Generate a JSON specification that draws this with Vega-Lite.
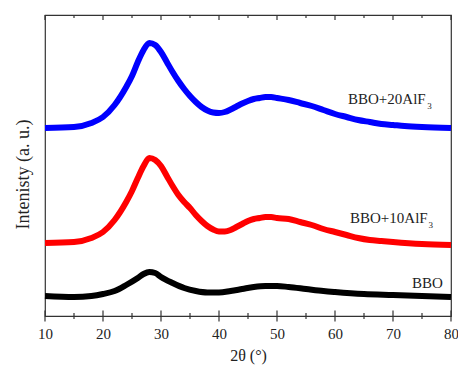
{
  "$schema": "https://vega.github.io/schema/vega-lite/v6.json",
  "width": 406,
  "height": 301,
  "autosize": "none",
  "padding": {"left": 45, "top": 15, "right": 7, "bottom": 49},
  "background": "white",
  "config": {
    "view": {"stroke": "#333333", "strokeWidth": 1.2},
    "font": "Liberation Serif, Times New Roman, serif",
    "axis": {"labelFont": "Liberation Serif, Times New Roman, serif", "titleFont": "Liberation Serif, Times New Roman, serif", "titleFontWeight": "normal", "labelColor": "#222222", "titleColor": "#222222", "grid": false}
  },
  "datasets": {
    "curves": [
      {"s": "BBO+20AlF3", "x": 10, "y": 188}, {"s": "BBO+20AlF3", "x": 15, "y": 189}, {"s": "BBO+20AlF3", "x": 18, "y": 193}, {"s": "BBO+20AlF3", "x": 20, "y": 199},
      {"s": "BBO+20AlF3", "x": 22, "y": 211}, {"s": "BBO+20AlF3", "x": 24, "y": 229}, {"s": "BBO+20AlF3", "x": 25, "y": 240}, {"s": "BBO+20AlF3", "x": 26, "y": 254},
      {"s": "BBO+20AlF3", "x": 27, "y": 266}, {"s": "BBO+20AlF3", "x": 28, "y": 273}, {"s": "BBO+20AlF3", "x": 29, "y": 271}, {"s": "BBO+20AlF3", "x": 30, "y": 264},
      {"s": "BBO+20AlF3", "x": 31, "y": 254}, {"s": "BBO+20AlF3", "x": 32, "y": 244}, {"s": "BBO+20AlF3", "x": 33, "y": 235}, {"s": "BBO+20AlF3", "x": 34, "y": 227},
      {"s": "BBO+20AlF3", "x": 35, "y": 220}, {"s": "BBO+20AlF3", "x": 36, "y": 214}, {"s": "BBO+20AlF3", "x": 37, "y": 209}, {"s": "BBO+20AlF3", "x": 38, "y": 205.5},
      {"s": "BBO+20AlF3", "x": 39, "y": 203.5}, {"s": "BBO+20AlF3", "x": 40, "y": 203}, {"s": "BBO+20AlF3", "x": 41, "y": 204}, {"s": "BBO+20AlF3", "x": 42, "y": 206.5},
      {"s": "BBO+20AlF3", "x": 43, "y": 209.5}, {"s": "BBO+20AlF3", "x": 44, "y": 212.5}, {"s": "BBO+20AlF3", "x": 45, "y": 215}, {"s": "BBO+20AlF3", "x": 46, "y": 217},
      {"s": "BBO+20AlF3", "x": 47, "y": 218}, {"s": "BBO+20AlF3", "x": 48, "y": 219}, {"s": "BBO+20AlF3", "x": 49, "y": 219}, {"s": "BBO+20AlF3", "x": 50, "y": 218},
      {"s": "BBO+20AlF3", "x": 52, "y": 216}, {"s": "BBO+20AlF3", "x": 54, "y": 213}, {"s": "BBO+20AlF3", "x": 56, "y": 210}, {"s": "BBO+20AlF3", "x": 58, "y": 206},
      {"s": "BBO+20AlF3", "x": 60, "y": 202}, {"s": "BBO+20AlF3", "x": 62, "y": 199}, {"s": "BBO+20AlF3", "x": 64, "y": 196}, {"s": "BBO+20AlF3", "x": 66, "y": 194},
      {"s": "BBO+20AlF3", "x": 68, "y": 192}, {"s": "BBO+20AlF3", "x": 70, "y": 191}, {"s": "BBO+20AlF3", "x": 72, "y": 190}, {"s": "BBO+20AlF3", "x": 75, "y": 189},
      {"s": "BBO+20AlF3", "x": 80, "y": 188},
      {"s": "BBO+10AlF3", "x": 10, "y": 73}, {"s": "BBO+10AlF3", "x": 15, "y": 74}, {"s": "BBO+10AlF3", "x": 18, "y": 78}, {"s": "BBO+10AlF3", "x": 20, "y": 84},
      {"s": "BBO+10AlF3", "x": 22, "y": 96}, {"s": "BBO+10AlF3", "x": 24, "y": 114}, {"s": "BBO+10AlF3", "x": 25, "y": 125}, {"s": "BBO+10AlF3", "x": 26, "y": 138},
      {"s": "BBO+10AlF3", "x": 27, "y": 150}, {"s": "BBO+10AlF3", "x": 28, "y": 158}, {"s": "BBO+10AlF3", "x": 29, "y": 156}, {"s": "BBO+10AlF3", "x": 30, "y": 150},
      {"s": "BBO+10AlF3", "x": 31, "y": 140}, {"s": "BBO+10AlF3", "x": 32, "y": 130}, {"s": "BBO+10AlF3", "x": 33, "y": 121}, {"s": "BBO+10AlF3", "x": 34, "y": 114},
      {"s": "BBO+10AlF3", "x": 35, "y": 108}, {"s": "BBO+10AlF3", "x": 36, "y": 101}, {"s": "BBO+10AlF3", "x": 37, "y": 95}, {"s": "BBO+10AlF3", "x": 38, "y": 90},
      {"s": "BBO+10AlF3", "x": 39, "y": 86.5}, {"s": "BBO+10AlF3", "x": 40, "y": 84.5}, {"s": "BBO+10AlF3", "x": 41, "y": 84.5}, {"s": "BBO+10AlF3", "x": 42, "y": 86},
      {"s": "BBO+10AlF3", "x": 43, "y": 89}, {"s": "BBO+10AlF3", "x": 44, "y": 92}, {"s": "BBO+10AlF3", "x": 45, "y": 95}, {"s": "BBO+10AlF3", "x": 46, "y": 97},
      {"s": "BBO+10AlF3", "x": 47, "y": 98}, {"s": "BBO+10AlF3", "x": 48, "y": 99}, {"s": "BBO+10AlF3", "x": 49, "y": 99}, {"s": "BBO+10AlF3", "x": 50, "y": 98},
      {"s": "BBO+10AlF3", "x": 52, "y": 97}, {"s": "BBO+10AlF3", "x": 54, "y": 94}, {"s": "BBO+10AlF3", "x": 56, "y": 91}, {"s": "BBO+10AlF3", "x": 58, "y": 87},
      {"s": "BBO+10AlF3", "x": 60, "y": 84}, {"s": "BBO+10AlF3", "x": 62, "y": 81}, {"s": "BBO+10AlF3", "x": 64, "y": 78}, {"s": "BBO+10AlF3", "x": 66, "y": 76},
      {"s": "BBO+10AlF3", "x": 68, "y": 75}, {"s": "BBO+10AlF3", "x": 70, "y": 74}, {"s": "BBO+10AlF3", "x": 75, "y": 72}, {"s": "BBO+10AlF3", "x": 80, "y": 71},
      {"s": "BBO", "x": 10, "y": 20}, {"s": "BBO", "x": 15, "y": 19}, {"s": "BBO", "x": 18, "y": 20}, {"s": "BBO", "x": 20, "y": 22},
      {"s": "BBO", "x": 22, "y": 25}, {"s": "BBO", "x": 24, "y": 31}, {"s": "BBO", "x": 26, "y": 38}, {"s": "BBO", "x": 27, "y": 42},
      {"s": "BBO", "x": 28, "y": 44}, {"s": "BBO", "x": 29, "y": 43}, {"s": "BBO", "x": 30, "y": 39}, {"s": "BBO", "x": 32, "y": 33},
      {"s": "BBO", "x": 34, "y": 28}, {"s": "BBO", "x": 36, "y": 25}, {"s": "BBO", "x": 38, "y": 23.5}, {"s": "BBO", "x": 40, "y": 23.5},
      {"s": "BBO", "x": 42, "y": 25}, {"s": "BBO", "x": 44, "y": 27}, {"s": "BBO", "x": 46, "y": 29}, {"s": "BBO", "x": 48, "y": 30},
      {"s": "BBO", "x": 50, "y": 30}, {"s": "BBO", "x": 52, "y": 29}, {"s": "BBO", "x": 55, "y": 27}, {"s": "BBO", "x": 58, "y": 25},
      {"s": "BBO", "x": 60, "y": 24}, {"s": "BBO", "x": 65, "y": 22}, {"s": "BBO", "x": 70, "y": 21}, {"s": "BBO", "x": 75, "y": 20},
      {"s": "BBO", "x": 80, "y": 19}
    ],
    "labels": [
      {"x": 62.24, "y": 217, "t": "BBO+20AlF"},
      {"x": 62.59, "y": 98, "t": "BBO+10AlF"},
      {"x": 73.28, "y": 33, "t": "BBO"}
    ],
    "subs": [
      {"x": 75.9, "y": 210, "t": "3"},
      {"x": 76.1, "y": 91, "t": "3"}
    ],
    "major": [{"x": 10}, {"x": 20}, {"x": 30}, {"x": 40}, {"x": 50}, {"x": 60}, {"x": 70}, {"x": 80}],
    "minor": [{"x": 15}, {"x": 25}, {"x": 35}, {"x": 45}, {"x": 55}, {"x": 65}, {"x": 75}]
  },
  "layer": [
    {
      "data": {"name": "curves"},
      "mark": {"type": "line", "interpolate": "monotone", "strokeJoin": "round"},
      "encoding": {
        "x": {"field": "x", "type": "quantitative", "scale": {"domain": [10, 80], "nice": false, "zero": false},
          "axis": {"orient": "bottom", "title": "2θ (°)", "values": [10, 20, 30, 40, 50, 60, 70, 80],
            "domain": false, "ticks": false, "tickSize": 0,
            "labelFontSize": 15, "titleFontSize": 16,
            "labelPadding": 10, "titlePadding": 6, "labelFlush": false, "labelOverlap": false}},
        "y": {"field": "y", "type": "quantitative", "scale": {"domain": [0, 301], "nice": false},
          "axis": {"orient": "left", "title": "Intenisty (a. u.)", "labels": false, "ticks": false, "domain": false, "titleFontSize": 18, "titlePadding": 13, "titleY": 159}},
        "color": {"field": "s", "type": "nominal", "legend": null,
          "scale": {"domain": ["BBO+20AlF3", "BBO+10AlF3", "BBO"], "range": ["#0000ff", "#ff0000", "#000000"]}},
        "strokeWidth": {"field": "s", "type": "nominal", "legend": null,
          "scale": {"domain": ["BBO+20AlF3", "BBO+10AlF3", "BBO"], "range": [6, 6, 4.5]}}
      }
    },
    {
      "data": {"name": "major"},
      "mark": {"type": "tick", "orient": "vertical", "color": "#333333", "thickness": 1.2, "size": 11, "opacity": 1},
      "encoding": {
        "x": {"field": "x", "type": "quantitative", "axis": null},
        "y": {"datum": 0, "type": "quantitative", "axis": null}
      }
    },
    {
      "data": {"name": "minor"},
      "mark": {"type": "tick", "orient": "vertical", "color": "#333333", "thickness": 1.2, "size": 6, "opacity": 1},
      "encoding": {
        "x": {"field": "x", "type": "quantitative", "axis": null},
        "y": {"datum": 0, "type": "quantitative", "axis": null}
      }
    },
    {
      "data": {"name": "major"},
      "mark": {"type": "tick", "orient": "vertical", "color": "#333333", "thickness": 1.2, "size": 5, "opacity": 1},
      "encoding": {
        "x": {"field": "x", "type": "quantitative", "axis": null},
        "y": {"datum": 298.5, "type": "quantitative", "axis": null}
      }
    },
    {
      "data": {"name": "minor"},
      "mark": {"type": "tick", "orient": "vertical", "color": "#333333", "thickness": 1.2, "size": 3, "opacity": 1},
      "encoding": {
        "x": {"field": "x", "type": "quantitative", "axis": null},
        "y": {"datum": 299.5, "type": "quantitative", "axis": null}
      }
    },
    {
      "data": {"name": "labels"},
      "mark": {"type": "text", "align": "left", "baseline": "middle", "fontSize": 15, "color": "#222222"},
      "encoding": {
        "x": {"field": "x", "type": "quantitative", "axis": null},
        "y": {"field": "y", "type": "quantitative", "axis": null},
        "text": {"field": "t"}
      }
    },
    {
      "data": {"name": "subs"},
      "mark": {"type": "text", "align": "left", "baseline": "middle", "fontSize": 9, "color": "#222222"},
      "encoding": {
        "x": {"field": "x", "type": "quantitative", "axis": null},
        "y": {"field": "y", "type": "quantitative", "axis": null},
        "text": {"field": "t"}
      }
    }
  ],
  "resolve": {"axis": {"x": "independent", "y": "independent"}}
}
